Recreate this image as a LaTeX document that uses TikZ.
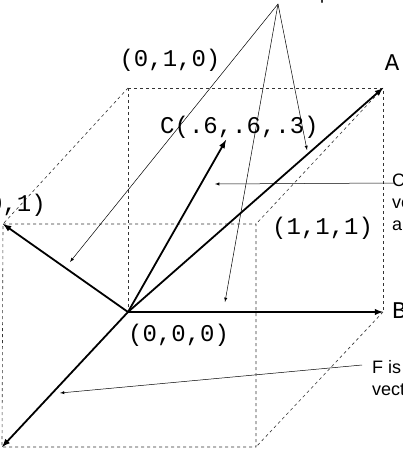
\documentclass[tikz,border=0pt]{standalone}
\usepackage{fontspec}
\setmainfont{Liberation Sans}
\newfontfamily\monof{Liberation Mono}
\begin{document}
\begin{tikzpicture}[x=1pt,y=-1pt,
  edge/.style={dashed,line width=0.6pt,gray!40!black},
  vec/.style={line width=1.8pt,-latex},
  call/.style={line width=0.5pt,-latex},
  lab/.style={font=\monof\fontsize{24}{26}\selectfont,inner sep=0pt},
  note/.style={font=\fontsize{18}{22}\selectfont,inner sep=0pt,anchor=west,align=left}]
\useasboundingbox (0,0) rectangle (403,449);
\coordinate (O) at (128,312);
\coordinate (A) at (383,88);
\coordinate (B) at (383,312);
\coordinate (C) at (226,140);
\coordinate (D) at (3,224);
\coordinate (F) at (2,447);
\coordinate (BL) at (128,88);
\coordinate (FTR) at (256,224);
\coordinate (FBR) at (256,447);
% dashed cube
\draw[edge] (BL) -- (A) -- (B);
\draw[edge] (BL) -- (O);
\draw[edge] (D) -- (FTR) -- (FBR) -- (F) -- (D);
\draw[edge] (BL) -- (D);
\draw[edge] (A) -- (FTR);
\draw[edge] (B) -- (FBR);
% vectors
\draw[vec] (O) -- (A);
\draw[vec] (O) -- (B);
\draw[vec] (O) -- (C);
\draw[vec] (O) -- (D);
\draw[vec] (O) -- (F);
% labels
\node[lab] (l010) at (170,60) {(0,1,0)};
\node[lab] (lA) at (392,63) {A};
\node[lab,anchor=west] (lC) at (160,127) {C(.6,.6,.3)};
\node[lab,anchor=west] (l111) at (272,228) {(1,1,1)};
\node[lab,anchor=west] (l000) at (128,335) {(0,0,0)};
\node[lab,anchor=west] (lB) at (392,311) {B};
\node[lab,anchor=east] (l001) at (46,205) {(0,0,1)};
% notes
\node[font=\fontsize{18}{22}\selectfont,inner sep=0pt] (top) at (278,-5) {Vectors in the space};
\coordinate (P) at (278,4);
\node[note] (nC) at (392,202) {C is a vector in\\ vector space\\ and so on};
\node[note] (nF) at (372,378) {F is a\\ vector};
\coordinate (pc) at (394,183);
\coordinate (pf) at (362,365);
\draw[call] (P) -- (70,262);
\draw[call] (P) -- (225,302);
\draw[call] (P) -- (307,150);
\draw[call] (pc) -- (215,184);
\draw[call] (pf) -- (60,393);
\end{tikzpicture}
\end{document}
